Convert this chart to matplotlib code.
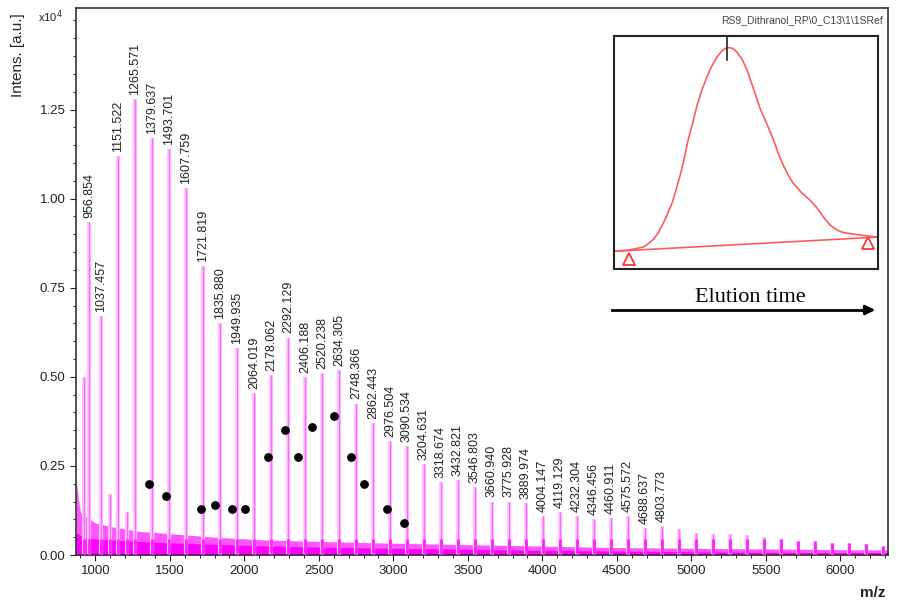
import matplotlib.pyplot as plt
import numpy as np

plt.rcParams['font.family'] = ['Liberation Sans', 'DejaVu Sans']

# labelled peaks (m/z, intensity x1e4)
peak_mz = [956.854, 1037.457, 1151.522, 1265.571, 1379.637, 1493.701, 1607.759,
           1721.819, 1835.880, 1949.935, 2064.019, 2178.062, 2292.129, 2406.188,
           2520.238, 2634.305, 2748.366, 2862.443, 2976.504, 3090.534, 3204.631,
           3318.674, 3432.821, 3546.803, 3660.940, 3775.928, 3889.974, 4004.147,
           4119.129, 4232.304, 4346.456, 4460.911, 4575.572, 4688.637, 4803.773]
peak_int = [0.935, 0.67, 1.12, 1.28, 1.17, 1.14, 1.03,
            0.81, 0.65, 0.58, 0.455, 0.505, 0.61, 0.50,
            0.51, 0.52, 0.425, 0.37, 0.32, 0.305, 0.255,
            0.205, 0.21, 0.19, 0.15, 0.15, 0.145, 0.11,
            0.12, 0.11, 0.10, 0.104, 0.11, 0.075, 0.08]

# unlabelled peaks
small_mz = [921, 1095, 1210, 4917.8, 5031.9, 5146.0, 5260.1, 5374.1, 5488.2,
            5602.3, 5716.4, 5830.4, 5944.5, 6058.6, 6172.7, 6286.7]
small_int = [0.50, 0.17, 0.12, 0.073, 0.062, 0.06, 0.059, 0.056, 0.05,
             0.045, 0.04, 0.04, 0.034, 0.033, 0.03, 0.025]

# baseline noise band
base_mz = [870, 885, 900, 930, 1000, 1100, 1300, 1500, 1800, 2100, 2500, 3000,
           3500, 4000, 4500, 5000, 5500, 6000, 6320]
base_hi = [0.22, 0.16, 0.12, 0.11, 0.09, 0.08, 0.066, 0.06, 0.05, 0.043, 0.038, 0.033,
           0.029, 0.025, 0.021, 0.019, 0.017, 0.015, 0.014]
base_lo = [0.06, 0.06, 0.055, 0.05, 0.045, 0.042, 0.038, 0.034, 0.03, 0.026, 0.022, 0.019,
           0.016, 0.013, 0.011, 0.009, 0.008, 0.007, 0.007]

# circled (black dot) points
dot_mz = [1357, 1471, 1707, 1801, 1914, 2003, 2157, 2272, 2360, 2454, 2600,
          2716, 2804, 2958, 3073]
dot_int = [0.20, 0.165, 0.13, 0.14, 0.13, 0.13, 0.275, 0.35, 0.275, 0.36, 0.39,
           0.275, 0.20, 0.13, 0.09]

# inset elution profile (normalised)
elu_t = [0.0, 0.011, 0.061, 0.110, 0.129, 0.148, 0.167, 0.186, 0.201, 0.220,
         0.235, 0.250, 0.265, 0.280, 0.299, 0.314, 0.333, 0.352, 0.371, 0.390,
         0.409, 0.428, 0.447, 0.466, 0.485, 0.504, 0.534, 0.553, 0.580, 0.602,
         0.621, 0.640, 0.659, 0.678, 0.712, 0.742, 0.769, 0.792, 0.818, 0.845,
         0.867, 0.905, 0.958, 1.0]
elu_i = [0.076, 0.077, 0.082, 0.094, 0.108, 0.126, 0.155, 0.195, 0.232, 0.283,
         0.339, 0.400, 0.468, 0.550, 0.631, 0.700, 0.768, 0.824, 0.872, 0.910,
         0.936, 0.951, 0.948, 0.931, 0.900, 0.854, 0.755, 0.690, 0.620, 0.560,
         0.500, 0.448, 0.405, 0.369, 0.326, 0.296, 0.262, 0.225, 0.189, 0.167,
         0.157, 0.150, 0.142, 0.137]

fig = plt.figure(figsize=(8.97, 6.03), dpi=100)
ax = fig.add_axes([0.0847, 0.0796, 0.9053, 0.9071])

ax.fill_between(base_mz, 0, base_hi, color='#ff55ff', lw=0, zorder=1)
ax.fill_between(base_mz, 0, base_lo, color='#ff00ff', lw=0, zorder=1)

all_mz = peak_mz + small_mz
all_int = peak_int + small_int
ax.vlines(all_mz, 0, all_int, color='#ffc8ff', lw=3.0, zorder=2)
ax.vlines(all_mz, 0, all_int, color='#ff66ff', lw=1.0, zorder=3)
ax.vlines(all_mz, 0, [min(v, 0.045) for v in all_int], color='#ff22ff', lw=2.0, zorder=3)

for m, h in zip(peak_mz, peak_int):
    ax.annotate('%.3f' % m, (m, h), xytext=(0, 3), textcoords='offset points',
                rotation=90, ha='center', va='bottom', fontsize=9, color='#222222')

ax.scatter(dot_mz, dot_int, s=28, color='black', zorder=5)

ax.set_xlim(870, 6320)
ax.set_ylim(0, 1.535)
ax.set_xticks(np.arange(1000, 6001, 500))
ax.set_xticks(np.arange(900, 6301, 100), minor=True)
ax.set_yticks([0, 0.25, 0.5, 0.75, 1.0, 1.25])
ax.set_yticklabels(['0.00', '0.25', '0.50', '0.75', '1.00', '1.25'])
ax.set_yticks(np.arange(0, 1.53, 0.05), minor=True)
ax.tick_params(labelsize=9.5, length=4, width=0.8, colors='#222222')
ax.tick_params(which='minor', length=2, width=0.6)
for s in ax.spines.values():
    s.set_linewidth(1.2)
    s.set_color('#333333')

fig.text(18 / 897, 1 - 55 / 603, 'Intens. [a.u.]', rotation=90, ha='center', va='center',
         fontsize=11, color='#222222')
fig.text(38 / 897, 1 - 17 / 603, r'x10$^4$', ha='left', va='center', fontsize=8,
         color='#222222')
fig.text(873 / 897, 1 - 593 / 603, 'm/z', ha='center', va='center', fontsize=11,
         fontweight='bold', color='#222222')
fig.text(883 / 897, 1 - 20 / 603, 'RS9_Dithranol_RP\\0_C13\\1\\1SRef', ha='right',
         va='center', fontsize=7.5, color='#444444')

# inset
ins = fig.add_axes([614 / 897, 1 - 269 / 603, 264 / 897, 233 / 603])
ins.plot(elu_t, elu_i, color='#ff5a5a', lw=1.2, solid_joinstyle='round')
ins.plot([0, 1], [elu_i[0], elu_i[-1]], color='#ff5a5a', lw=1.2)
ins.plot([0.057, 0.962], [0.045, 0.11], ls='none', marker='^', ms=9,
         mfc='white', mec='#ff3333', mew=1.3)
ins.plot([0.428, 0.428], [0.897, 1.0], color='#222222', lw=1.2)
ins.set_xlim(0, 1)
ins.set_ylim(0, 1)
ins.set_xticks([])
ins.set_yticks([])
for s in ins.spines.values():
    s.set_linewidth(1.5)
    s.set_color('#222222')

fig.text(750 / 897, 1 - 298 / 603, 'Elution time', ha='center', va='center',
         fontsize=16, family='Liberation Serif', color='black')
fig.add_artist(plt.Line2D([612 / 897, 866 / 897], [1 - 310 / 603, 1 - 310 / 603],
                          color='black', lw=2))
ax.annotate('', xy=(878 / 897, 1 - 310 / 603), xytext=(860 / 897, 1 - 310 / 603),
            xycoords='figure fraction',
            arrowprops=dict(arrowstyle='-|>', color='black', lw=2, mutation_scale=14))

fig.savefig('out.png', dpi=100)
